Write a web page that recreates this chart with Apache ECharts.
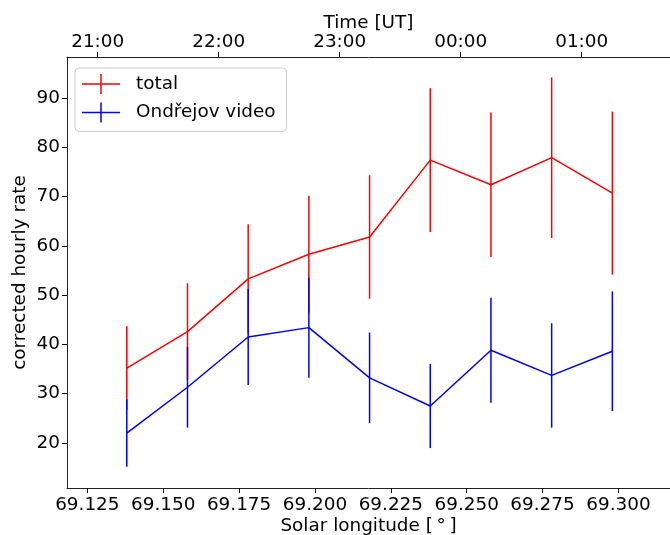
<!DOCTYPE html>
<html><head><meta charset="utf-8">
<script src="https://cdn.jsdelivr.net/npm/echarts@6/dist/echarts.min.js"></script>
<style>html,body{margin:0;padding:0;background:#fff}#c{width:670px;height:535px}</style>
</head><body><div id="c"></div>
<script>
// ---- data ----
const solarLongitude = [69.138, 69.158, 69.178, 69.198, 69.218, 69.238, 69.258, 69.278, 69.298];
const totalRate = [35.2, 42.6, 53.3, 58.3, 61.8, 77.4, 72.4, 77.9, 70.7];
const totalErr  = [8.5, 9.8, 11.1, 11.85, 12.55, 14.6, 14.65, 16.3, 16.55];
const videoRate = [22.0, 31.3, 41.5, 43.4, 33.2, 27.5, 38.8, 33.7, 38.6];
const videoErr  = [6.85, 8.2, 9.75, 10.15, 9.2, 8.55, 10.65, 10.6, 12.15];
const lonTicks = [69.125, 69.150, 69.175, 69.200, 69.225, 69.250, 69.275, 69.300];
const rateTicks = [20, 30, 40, 50, 60, 70, 80, 90];
const timeTickMinutes = [0, 60, 120, 180, 240]; // minutes after 21:00 UT
const timeTickLabels = ['21:00', '22:00', '23:00', '00:00', '01:00'];

const FONT = 'DejaVu Sans';
const FS = 18.4;
const RED = '#ff0000', BLUE = '#0000ff';
const crossIcon = 'path://M0,9.25H38V10.75H0Z M18.25,0H19.75V20H18.25Z';

function lineData(rate) { return solarLongitude.map((x, i) => [x, rate[i]]); }
function errData(rate, err) { return solarLongitude.map((x, i) => [x, rate[i] - err[i], rate[i] + err[i]]); }
function errRender(color) {
  return function (params, api) {
    const p1 = api.coord([api.value(0), api.value(1)]);
    const p2 = api.coord([api.value(0), api.value(2)]);
    return { type: 'line', shape: { x1: p1[0], y1: p1[1], x2: p2[0], y2: p2[1] },
             style: { stroke: color, lineWidth: 1.5 } };
  };
}
const axisCommon = {
  axisLine: { show: true, onZero: false, lineStyle: { color: '#222', width: 1 } },
  splitLine: { show: false },
  nameMoveOverlap: false
};
const labelStyle = { fontFamily: FONT, fontSize: FS, color: '#000' };

const chart = echarts.init(document.getElementById('c'), null, { renderer: 'canvas' });
chart.setOption({
  animation: false,
  backgroundColor: '#fff',
  grid: { left: 67, top: 57, right: 0, bottom: 47, containLabel: false, outerBoundsMode: 'none' },
  legend: {
    orient: 'vertical', left: 75, top: 68,
    padding: [6, 11, 9, 7], itemWidth: 38, itemHeight: 20, itemGap: 8.4,
    backgroundColor: 'rgba(255,255,255,0.8)', borderColor: '#cccccc', borderWidth: 1, borderRadius: 4,
    textStyle: { fontFamily: FONT, fontSize: FS, color: '#000', padding: [0, 0, 0, 11] },
    itemStyle: { borderWidth: 0 },
    selectedMode: false,
    data: [
      { name: 'total', icon: crossIcon, itemStyle: { color: RED } },
      { name: 'Ondřejov video', icon: crossIcon, itemStyle: { color: BLUE } }
    ]
  },
  xAxis: [
    Object.assign({}, axisCommon, {
      type: 'value', position: 'bottom', min: 69.1183, max: 69.3170,
      axisTick: { show: true, customValues: lonTicks, length: 5, lineStyle: { color: '#000' } },
      axisLabel: Object.assign({ customValues: lonTicks, margin: 8, formatter: v => v.toFixed(3) }, labelStyle),
      name: 'Solar longitude [\u2009\u00b0\u2009]', nameLocation: 'middle', nameGap: 29,
      nameTextStyle: labelStyle
    }),
    Object.assign({}, axisCommon, {
      type: 'value', position: 'top', min: -15.22, max: 283.79,
      axisTick: { show: true, customValues: timeTickMinutes, length: 5, lineStyle: { color: '#000' } },
      axisLabel: Object.assign({ customValues: timeTickMinutes, margin: 6,
        formatter: v => timeTickLabels[timeTickMinutes.indexOf(Math.round(v))] }, labelStyle),
      name: 'Time [UT]', nameLocation: 'middle', nameGap: 25,
      nameTextStyle: labelStyle
    })
  ],
  yAxis: Object.assign({}, axisCommon, {
    type: 'value', min: 10.85, max: 98.33,
    axisTick: { show: true, customValues: rateTicks, length: 5, lineStyle: { color: '#000' } },
    axisLabel: Object.assign({ customValues: rateTicks, margin: 7 }, labelStyle),
    name: 'corrected hourly rate', nameLocation: 'middle', nameGap: 38, nameRotate: 90,
    nameTextStyle: labelStyle
  }),
  series: [
    { name: 'total', type: 'line', data: lineData(totalRate), showSymbol: false, symbol: 'none',
      lineStyle: { color: RED, width: 1.5 }, itemStyle: { color: RED }, z: 2 },
    { name: 'total', type: 'custom', data: errData(totalRate, totalErr), renderItem: errRender(RED),
      encode: { x: 0, y: [1, 2] }, itemStyle: { color: RED }, z: 2 },
    { name: 'Ondřejov video', type: 'line', data: lineData(videoRate), showSymbol: false, symbol: 'none',
      lineStyle: { color: BLUE, width: 1.5 }, itemStyle: { color: BLUE }, z: 3 },
    { name: 'Ondřejov video', type: 'custom', data: errData(videoRate, videoErr), renderItem: errRender(BLUE),
      encode: { x: 0, y: [1, 2] }, itemStyle: { color: BLUE }, z: 3 }
  ]
});
</script></body></html>
